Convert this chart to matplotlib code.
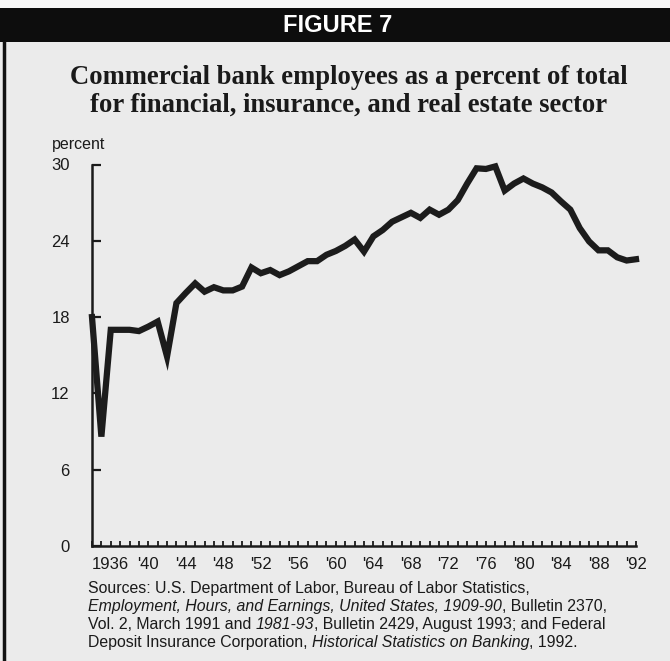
import matplotlib
matplotlib.use('Agg')
import matplotlib.pyplot as plt
from matplotlib.patches import Rectangle
from matplotlib.lines import Line2D

# data
years = list(range(1934, 1993))
percent = [18.0, 8.6, 17.0, 17.0, 17.0, 16.9, 17.25, 17.65, 14.9, 19.1,
           19.9, 20.65, 20.0, 20.35, 20.1, 20.1, 20.4, 21.9, 21.45, 21.7,
           21.3, 21.6, 22.0, 22.4, 22.4, 22.9, 23.2, 23.6, 24.1, 23.15,
           24.35, 24.85, 25.5, 25.85, 26.2, 25.8, 26.45, 26.05, 26.45, 27.2,
           28.5, 29.7, 29.65, 29.85, 27.95, 28.5, 28.9, 28.5, 28.2, 27.8,
           27.1, 26.45, 25.0, 23.95, 23.25, 23.25, 22.7, 22.45, 22.55]
yticks = [0, 6, 12, 18, 24, 30]
xtick_years = list(range(1936, 1993, 4))
xtick_labels = ['1936'] + ["'" + str(y)[2:] for y in xtick_years[1:]]

W, H = 670, 661
bg = '#ebebeb'
ink = '#1a1a1a'

plt.rcParams['font.family'] = 'Liberation Sans'

fig = plt.figure(figsize=(W / 100, H / 100), dpi=100)
fig.patch.set_facecolor(bg)

def fx(px):
    return px / W

def fy(py):
    return 1 - py / H

# top strip and black header bar
fig.patches.append(Rectangle((0, fy(8)), 1, 8 / H, transform=fig.transFigure,
                             facecolor='#f7f7f7', edgecolor='none', zorder=0))
fig.patches.append(Rectangle((0, fy(42)), 1, 34 / H, transform=fig.transFigure,
                             facecolor='#0d0d0d', edgecolor='none', zorder=1))
fig.lines.append(Line2D([fx(4), fx(4)], [fy(42), 0], transform=fig.transFigure,
                        color='#111111', linewidth=2.5))

fig.text(fx(338), fy(26), 'FIGURE 7', color='white', fontsize=17,
         fontweight='bold', ha='center', va='center')

fig.text(fx(349), fy(77), 'Commercial bank employees as a percent of total',
         family='Liberation Serif', fontweight='bold', fontsize=19.2,
         ha='center', va='center', color=ink)
fig.text(fx(349), fy(105), 'for financial, insurance, and real estate sector',
         family='Liberation Serif', fontweight='bold', fontsize=19.2,
         ha='center', va='center', color=ink)

ax = fig.add_axes([fx(92), fy(546), (636 - 92) / W, (546 - 164.5) / H])
ax.set_facecolor('none')
ax.plot(years, percent, color='#1c1c1c', linewidth=4.5, solid_joinstyle='miter',
        clip_on=False, zorder=3)

ax.set_xlim(1934, 1992)
ax.set_ylim(0, 30)
for s in ['top', 'right']:
    ax.spines[s].set_visible(False)
for s in ['left', 'bottom']:
    ax.spines[s].set_linewidth(1.8)
    ax.spines[s].set_color(ink)

ax.set_yticks(yticks)
ax.set_yticklabels([str(v) for v in yticks])
ax.set_xticks(xtick_years)
ax.set_xticklabels(xtick_labels)
ax.set_xticks(years, minor=True)
ax.tick_params(axis='y', direction='in', length=6.5, width=1.6, pad=16,
               labelsize=12, colors=ink)
ax.tick_params(axis='x', which='both', direction='in', length=3.5, width=1.3,
               pad=8, labelsize=12, colors=ink)

fig.text(fx(52), fy(145), 'percent', fontsize=11.5, ha='left', va='center',
         color=ink)

# sources note with italic pieces
lines = [
    [('Sources: U.S. Department of Labor, Bureau of Labor Statistics,', 'normal')],
    [('Employment, Hours, and Earnings, United States, 1909-90', 'italic'),
     (', Bulletin 2370,', 'normal')],
    [('Vol. 2, March 1991 and ', 'normal'), ('1981-93', 'italic'),
     (', Bulletin 2429, August 1993; and Federal', 'normal')],
    [('Deposit Insurance Corporation, ', 'normal'),
     ('Historical Statistics on Banking', 'italic'), (', 1992.', 'normal')],
]
renderer = fig.canvas.get_renderer()
y0 = 588
for i, parts in enumerate(lines):
    x = 88
    for txt, style in parts:
        t = fig.text(fx(x), fy(y0 + i * 18.3), txt, fontsize=11.4, style=style,
                     ha='left', va='center', color=ink)
        bb = t.get_window_extent(renderer=renderer)
        x += bb.width

fig.savefig('out.png', dpi=100, facecolor=fig.get_facecolor())
